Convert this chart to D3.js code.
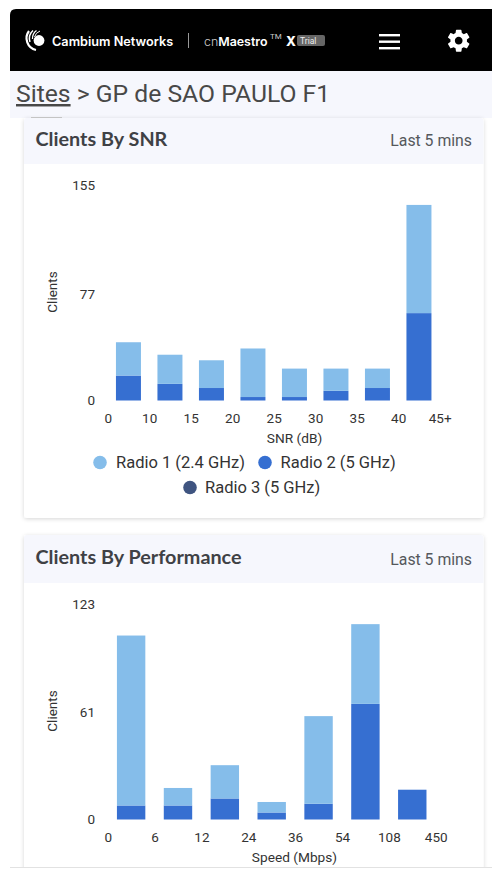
<!DOCTYPE html>
<html><head><meta charset="utf-8">
<script src="https://cdn.jsdelivr.net/npm/d3@7"></script>
<style>html,body{margin:0;padding:0;background:#fff;overflow:hidden}svg{display:block}</style>
</head><body><div id="c"></div>
<script>
const seriesNames = ["Radio 1 (2.4 GHz)", "Radio 2 (5 GHz)", "Radio 3 (5 GHz)"];
const seriesColors = ["#85bdea", "#366fd1", "#3f5480"];

const snrTicks = ["0","10","15","20","25","30","35","40","45+"];
const snrRadio2 = [18, 12, 9, 2.5, 2.5, 7, 9, 63];
const snrRadio1 = [24, 21, 20, 35, 20.5, 16, 14, 78];
const snrRadio3 = [0, 0, 0, 0, 0, 0, 0, 0];
const snrYTicks = [0, 77, 155];

const perfTicks = ["0","6","12","24","36","54","108","450"];
const perfRadio2 = [8, 8, 12, 4, 9, 66, 17];
const perfRadio1 = [97, 10, 19, 6, 50, 45.5, 0];
const perfRadio3 = [0, 0, 0, 0, 0, 0, 0];
const perfYTicks = [0, 61, 123];

const W = 492, H = 884;
const svg = d3.select("#c").append("svg").attr("width", W).attr("height", H);
const defs = svg.append("defs");
const f = defs.append("filter").attr("id","sh").attr("x","-5%").attr("y","-5%").attr("width","110%").attr("height","110%");
f.append("feDropShadow").attr("dx",0).attr("dy",1).attr("stdDeviation",2).attr("flood-color","#000").attr("flood-opacity",0.16);
const clip = defs.append("clipPath").attr("id","page");
clip.append("rect").attr("x",10).attr("y",0).attr("width",482).attr("height",867);

const SANS = "Roboto, sans-serif", HEAD = "Lato, 'Open Sans', sans-serif";

function card(y0, y1, headEnd, title, titleY, lastY) {
  const g = svg.append("g").attr("clip-path","url(#page)");
  g.append("rect").attr("x",24).attr("y",y0).attr("width",459.5).attr("height",y1-y0).attr("rx",3).attr("fill","#fff").attr("filter","url(#sh)");
  g.append("path").attr("d",`M24,${headEnd}V${y0+3}q0,-3 3,-3H480.5q3,0 3,3V${headEnd}Z`).attr("fill","#f6f7fd");
  svg.append("text").attr("x",35.5).attr("y",titleY).attr("font-family",HEAD).attr("font-weight",700).attr("font-size",19.8).attr("fill","#3f4145").text(title);
  svg.append("text").attr("x",472).attr("y",lastY).attr("text-anchor","end").attr("font-family",SANS).attr("font-size",15.8).attr("fill","#55585c").text("Last 5 mins");
}

function chart(o) {
  const g = svg.append("g").attr("font-family",SANS);
  const x = d3.scalePoint().domain(o.ticks).range([o.x0, o.x1]);
  const y = d3.scaleLinear().domain([0, o.yMax]).range([o.base, o.top]);
  const step = x.step();
  const stack = d3.stack().keys([0,1,2]).value((d,k)=>d[k]);
  const rows = o.r2.map((v,i)=>[o.r2[i], o.r1[i], o.r3[i]]);
  const layers = stack(rows);
  const colorOf = [seriesColors[1], seriesColors[0], seriesColors[2]];
  layers.forEach((l,k)=>{
    g.selectAll(null).data(l).join("rect")
      .attr("x",(d,i)=>x(o.ticks[i]) + step/2 - o.bw/2)
      .attr("width",o.bw)
      .attr("y",d=>y(d[1]))
      .attr("height",d=>Math.max(0,y(d[0])-y(d[1])))
      .attr("fill",colorOf[k]);
  });
  const ay = d3.axisLeft(y).tickValues(o.yTicks).tickSize(0).tickPadding(0).tickFormat(d3.format("d"));
  const gy = g.append("g").attr("transform",`translate(${o.yLabelX},0)`).call(ay);
  gy.select(".domain").remove();
  gy.selectAll("text").attr("font-family",SANS).attr("font-size",13.5).attr("fill","#333");
  const ax = d3.axisBottom(x).tickSize(0).tickPadding(0);
  const gx = g.append("g").attr("transform",`translate(0,${o.base+12.5})`).call(ax);
  gx.select(".domain").remove();
  gx.selectAll("text").attr("font-family",SANS).attr("font-size",13.5).attr("fill","#333");
  g.append("text").attr("x",o.xTitleX).attr("y",o.base+42.5).attr("text-anchor","middle").attr("font-size",13.7).attr("fill","#333").text(o.xTitle);
  g.append("text").attr("transform",`translate(${o.yTitleX},${o.yTitleY}) rotate(-90)`).attr("text-anchor","middle").attr("font-size",13.5).attr("fill","#333").text("Clients");
}

// Page chrome
svg.append("path").attr("d","M10,71V15q0,-6 6,-6H492V71Z").attr("fill","#000");
svg.append("rect").attr("x",10).attr("y",71).attr("width",482).attr("height",47).attr("fill","#f6f7fd");

// Logo mark
const logo = svg.append("g").attr("fill","none").attr("stroke","#fff");
logo.append("circle").attr("cx",39).attr("cy",40.5).attr("r",5.4).attr("fill","#fff").attr("stroke","none");
logo.append("path").attr("d","M29,31A12,12 0 0 0 36,50").attr("stroke-width",2.2);
logo.append("path").attr("d","M33,30.5A11,11 0 0 0 30,42").attr("stroke-width",1.5);
logo.append("path").attr("d","M36.5,30.5A10,10 0 0 0 32.5,39").attr("stroke-width",1.3);
logo.append("path").attr("d","M40,31A9,9 0 0 0 34.5,37").attr("stroke-width",1);
svg.append("text").attr("x",52).attr("y",45.5).attr("font-family","Inter, sans-serif").attr("font-weight",600).attr("font-size",12.7).attr("fill","#fff").text("Cambium Networks");
svg.append("rect").attr("x",188).attr("y",33).attr("width",1).attr("height",15).attr("fill","#999");
const cm = svg.append("text").attr("x",204).attr("y",46).attr("font-family","Inter, sans-serif").attr("font-size",12.4).attr("fill","#fff");
cm.append("tspan").attr("font-weight",300).attr("fill","#ccc").text("cn");
cm.append("tspan").attr("font-weight",600).text("Maestro");
svg.append("text").attr("x",270).attr("y",39).attr("font-family",SANS).attr("font-size",8).attr("fill","#ccc").text("TM");
svg.append("text").attr("x",286).attr("y",46).attr("font-family","Inter, sans-serif").attr("font-weight",800).attr("font-size",13).attr("fill","#fff").text("X");
svg.append("rect").attr("x",297).attr("y",35).attr("width",28).attr("height",11).attr("rx",2).attr("fill","#666");
svg.append("text").attr("x",300).attr("y",43.5).attr("font-family",SANS).attr("font-size",8.5).attr("fill","#eee").text("Trial");
svg.append("g").attr("fill","#fff").selectAll("rect").data([0,1,2]).join("rect")
  .attr("x",379).attr("y",d=>34+d*6.5).attr("width",21).attr("height",2.4);
// Gear icon
svg.append("path").attr("transform","translate(445.5,27.5) scale(1.1)")
  .attr("fill","#fff")
  .attr("fill-rule","evenodd")
  .attr("d","M19.43 12.98c.04-.32.07-.64.07-.98s-.03-.66-.07-.98l2.11-1.65c.19-.15.24-.42.12-.64l-2-3.46c-.12-.22-.39-.3-.61-.22l-2.49 1c-.52-.4-1.08-.73-1.69-.98l-.38-2.65C14.46 2.18 14.25 2 14 2h-4c-.25 0-.46.18-.49.42l-.38 2.65c-.61.25-1.17.59-1.69.98l-2.49-1c-.23-.09-.49 0-.61.22l-2 3.46c-.13.22-.07.49.12.64l2.11 1.65c-.04.32-.07.65-.07.98s.03.66.07.98l-2.11 1.65c-.19.15-.24.42-.12.64l2 3.46c.12.22.39.3.61.22l2.49-1c.52.4 1.08.73 1.69.98l.38 2.65c.03.24.24.42.49.42h4c.25 0 .46-.18.49-.42l.38-2.65c.61-.25 1.17-.59 1.69-.98l2.49 1c.23.09.49 0 .61-.22l2-3.46c.12-.22.07-.49-.12-.64l-2.11-1.65zM12 15.5c-1.93 0-3.5-1.57-3.5-3.5s1.57-3.5 3.5-3.5 3.5 1.57 3.5 3.5-1.57 3.5-3.5 3.5z");

// Breadcrumb
const bc = svg.append("text").attr("x",16).attr("y",102).attr("font-family",SANS).attr("font-weight",400).attr("font-size",24.7).attr("fill","#484848");
bc.append("tspan").attr("text-decoration","underline").text("Sites");
bc.append("tspan").text(" > GP de SAO PAULO F1");
svg.append("rect").attr("x",31).attr("y",117).attr("width",31).attr("height",1).attr("fill","#ccc");

card(118, 518, 164, "Clients By SNR", 145.5, 146);
chart({ticks:snrTicks, r1:snrRadio1, r2:snrRadio2, r3:snrRadio3, yTicks:snrYTicks, yMax:155, x0:107.7, x1:439.7, bw:25, base:400.5, top:185.5, yLabelX:95, xTitle:"SNR (dB)", xTitleX:294.5, yTitleX:57, yTitleY:292});

// Legend
const legendX = [[100,"#85bdea",116,seriesNames[0]],[265,"#366fd1",280.5,seriesNames[1]],[190,"#3f5480",205,seriesNames[2]]];
const legendY = [462.5,462.5,487.5];
const lg = svg.append("g").attr("font-family",SANS);
lg.selectAll("circle").data(legendX).join("circle").attr("cx",d=>d[0]).attr("cy",(d,i)=>legendY[i]).attr("r",6.8).attr("fill",d=>d[1]);
lg.selectAll("text").data(legendX).join("text").attr("x",d=>d[2]).attr("y",(d,i)=>legendY[i]+5.8).attr("font-size",16.5).attr("fill","#333").text(d=>d[3]);

card(535, 900, 583, "Clients By Performance", 564, 565);
chart({ticks:perfTicks, r1:perfRadio1, r2:perfRadio2, r3:perfRadio3, yTicks:perfYTicks, yMax:123, x0:107.7, x1:435.7, bw:28.4, base:819.5, top:604, yLabelX:95, xTitle:"Speed (Mbps)", xTitleX:294.5, yTitleX:57, yTitleY:711});

svg.append("rect").attr("x",10).attr("y",867).attr("width",482).attr("height",1).attr("fill","#e2e2e2");
svg.append("rect").attr("x",0).attr("y",868).attr("width",492).attr("height",16).attr("fill","#fff");
</script></body></html>
